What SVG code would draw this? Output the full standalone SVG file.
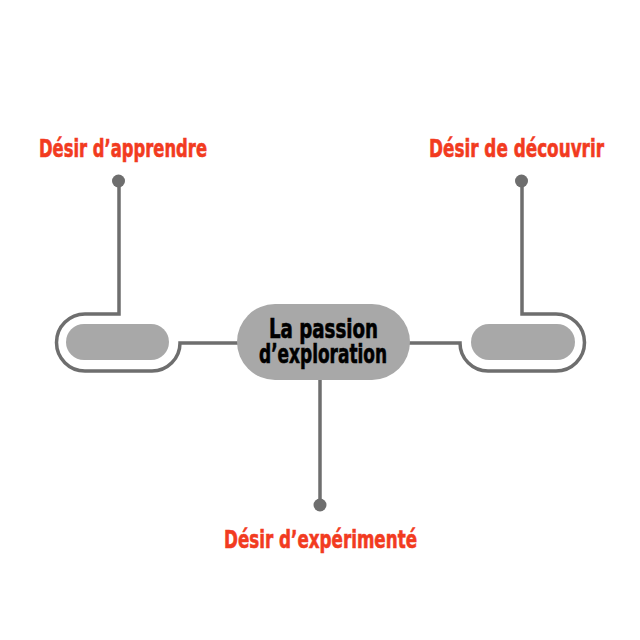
<svg xmlns="http://www.w3.org/2000/svg" width="640" height="640" viewBox="0 0 640 640">
<style>
.conn{fill:none;stroke:#6e6e6e;stroke-width:3.5}
.dot{fill:#6e6e6e}
.pill{fill:#a8a8a8}
.lbl{font-family:"DejaVu Sans Condensed","Liberation Sans",sans-serif;font-weight:bold;font-size:25px;fill:#f23b1f;stroke:#f23b1f;stroke-width:0.6}
.ctr{font-family:"DejaVu Sans Condensed","Liberation Sans",sans-serif;font-weight:bold;font-size:26px;fill:#000;stroke:#000;stroke-width:0.6;text-anchor:middle}
</style>
<rect width="640" height="640" fill="#fff"/>
<g id="connectors">
<path class="conn" d="M119,181 V314 H85 A28.5,28.5 0 0 0 85,371 H152 A28,28 0 0 0 180,343 H240"/>
<path class="conn" d="M522,181 V314 H556 A28.5,28.5 0 0 1 556,371 H488 A28,28 0 0 1 460,343 H408"/>
<path class="conn" d="M320,378 V505"/>
<circle class="dot" cx="118.5" cy="181" r="6.5"/>
<circle class="dot" cx="521.5" cy="181" r="6.5"/>
<circle class="dot" cx="320" cy="505" r="6.5"/>
</g>
<g id="node-left"><rect class="pill" x="66" y="324" width="103" height="36" rx="18"/></g>
<g id="node-right"><rect class="pill" x="471" y="324" width="104" height="36" rx="18"/></g>
<g id="node-center">
<rect class="pill" x="237" y="304" width="173" height="76" rx="38" fill="#a3a3a3"/>
<text class="ctr" x="323.5" y="338" textLength="109" lengthAdjust="spacingAndGlyphs">La passion</text>
<text class="ctr" x="323" y="363" textLength="128" lengthAdjust="spacingAndGlyphs">d’exploration</text>
</g>
<g id="label-apprendre"><text class="lbl" x="39" y="157" textLength="168" lengthAdjust="spacingAndGlyphs">Désir d’apprendre</text></g>
<g id="label-decouvrir"><text class="lbl" x="429" y="157" textLength="175" lengthAdjust="spacingAndGlyphs">Désir de découvrir</text></g>
<g id="label-experimente"><text class="lbl" x="224" y="548" textLength="193" lengthAdjust="spacingAndGlyphs">Désir d’expérimenté</text></g>
</svg>
